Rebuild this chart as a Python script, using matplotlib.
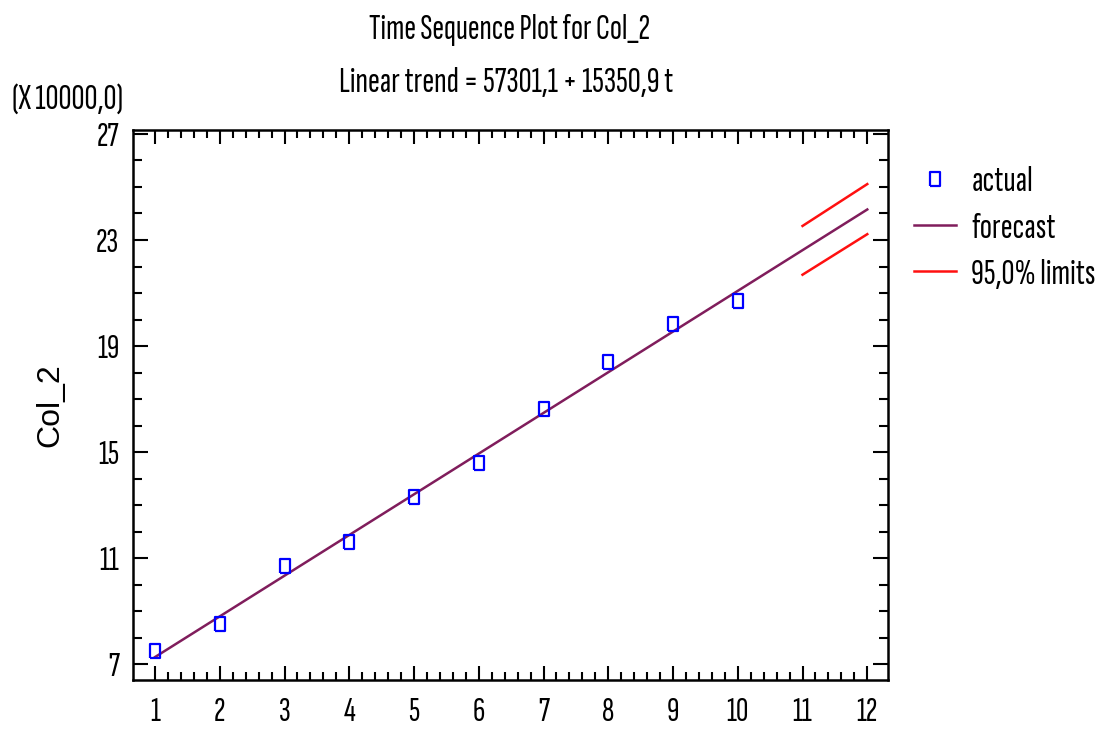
import matplotlib
matplotlib.use("Agg")
import matplotlib.pyplot as plt
from matplotlib.ticker import FixedLocator

# ---- data ----
t_actual = [1, 2, 3, 4, 5, 6, 7, 8, 9, 10]
actual = [74900, 85100, 106900, 116100, 133000, 145800, 166300, 184000, 198300, 206800]
forecast_t = [1, 12]
forecast = [72652, 241512]
limits_t = [11, 12]
upper_limit = [235300, 251100]
lower_limit = [216900, 232200]
x_ticks = [1, 2, 3, 4, 5, 6, 7, 8, 9, 10, 11, 12]
y_ticks = [7, 11, 15, 19, 23, 27]
scale = 10000.0

NARROW = ['Sofia Sans Extra Condensed', 'Roboto Condensed', 'DejaVu Sans']
REG = ['Liberation Sans', 'DejaVu Sans']
W = 'medium'

fig = plt.figure(figsize=(10.96, 7.31), dpi=100)
ax = fig.add_axes([133/1096, 1-680/731, (888-133)/1096, (680-130)/731])

ax.plot(forecast_t, [v/scale for v in forecast], color='#801d5c', lw=1.8, label='forecast', zorder=2)
ax.plot(limits_t, [v/scale for v in upper_limit], color='#ff1010', lw=1.8, label='95,0% limits', zorder=2)
ax.plot(limits_t, [v/scale for v in lower_limit], color='#ff1010', lw=1.8, zorder=2)
rect = [(-0.38, -0.5), (0.38, -0.5), (0.38, 0.5), (-0.38, 0.5), (-0.38, -0.5)]
ax.plot(t_actual, [v/scale for v in actual], linestyle='none', marker=rect, markersize=9.5,
        markerfacecolor='none', markeredgecolor='#0000ff', markeredgewidth=1.6, label='actual', zorder=3)

ax.set_xlim(0.66, 12.32)
ax.set_ylim(6.40, 27.15)

ax.xaxis.set_major_locator(FixedLocator(x_ticks))
ax.xaxis.set_minor_locator(FixedLocator([1 + 0.2*i for i in range(56)]))
ax.yaxis.set_major_locator(FixedLocator(y_ticks))
ax.yaxis.set_minor_locator(FixedLocator(list(range(7, 28))))
ax.tick_params(which='both', direction='in', top=True, right=True, width=1.5, color='black')
ax.tick_params(which='major', length=10, labelsize=25)
ax.tick_params(which='minor', length=5.5)
ax.tick_params(axis='x', which='major', pad=12)
ax.tick_params(axis='y', which='major', length=11, pad=10)
ax.tick_params(axis='y', which='minor', length=6.5)
for lab in ax.get_xticklabels() + ax.get_yticklabels():
    lab.set_family(NARROW)
    lab.set_fontweight(W)
for sp in ax.spines.values():
    sp.set_linewidth(1.8)

ax.set_ylabel('Col_2', family=REG, fontsize=23, labelpad=22)

fig.text(510/1096, 1-39/731, 'Time Sequence Plot for Col_2', ha='center', va='baseline',
         family=NARROW, fontsize=25.5, fontweight=W)
fig.text(506/1096, 1-92/731, 'Linear trend = 57301,1 + 15350,9 t', ha='center', va='baseline',
         family=NARROW, fontsize=26, fontweight=W)
fig.text(12/1096, 1-109/731, '(X 10000,0)', ha='left', va='baseline',
         family=NARROW, fontsize=26, fontweight=W)

h, l = ax.get_legend_handles_labels()
order = [l.index('actual'), l.index('forecast'), l.index('95,0% limits')]
leg = ax.legend([h[i] for i in order], [l[i] for i in order], loc='upper left',
                bbox_to_anchor=(914/1096, 1-166/731), bbox_transform=fig.transFigure,
                frameon=False, prop={'family': NARROW, 'size': 26, 'weight': W}, borderpad=0, borderaxespad=0,
                handlelength=1.17, handletextpad=0.42, labelspacing=0.39)

fig.savefig('out.png', dpi=100)
